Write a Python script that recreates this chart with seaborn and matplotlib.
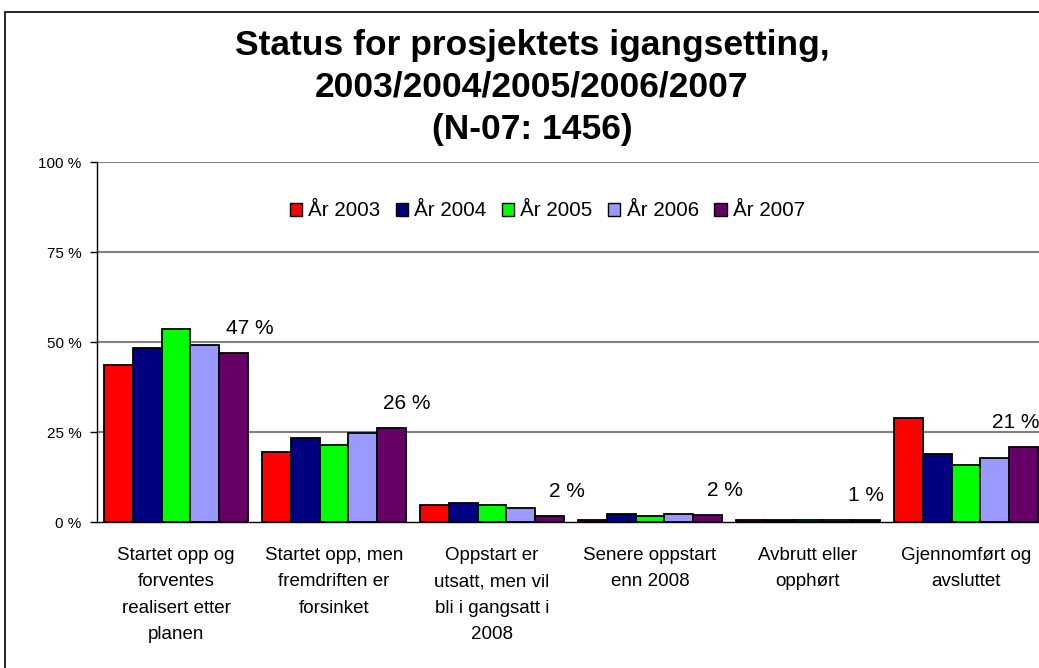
import pandas as pd
import seaborn as sns
import matplotlib.pyplot as plt
from matplotlib.patches import Rectangle, Patch

# data (percent)
categories = ["Startet opp og\nforventes\nrealisert etter\nplanen",
              "Startet opp, men\nfremdriften er\nforsinket",
              "Oppstart er\nutsatt, men vil\nbli i gangsatt i\n2008",
              "Senere oppstart\nenn 2008",
              "Avbrutt eller\nopphørt",
              "Gjennomført og\navsluttet"]
years = ["År 2003", "År 2004", "År 2005", "År 2006", "År 2007"]
v2003 = [43.6, 19.5, 4.8, 0.6, 0.6, 29.0]
v2004 = [48.2, 23.3, 5.4, 2.1, 0.6, 18.8]
v2005 = [53.5, 21.5, 4.8, 1.6, 0.6, 15.8]
v2006 = [49.2, 24.7, 3.9, 2.1, 0.6, 17.7]
v2007 = [47.0, 26.2, 1.7, 2.0, 0.6, 20.9]
colors = ["#FF0000", "#000080", "#00FF00", "#9999FF", "#660066"]
# labels shown for 2007 and their horizontal shift (pixels) as placed in the original
labels_2007 = ["47 %", "26 %", "2 %", "2 %", "1 %", "21 %"]
label_shift = [16, 15, 17, 17, 0, -8]

rows = []
for year, vals in zip(years, [v2003, v2004, v2005, v2006, v2007]):
    for cat, v in zip(categories, vals):
        rows.append({"kategori": cat, "år": year, "andel": v})
df = pd.DataFrame(rows)

sns.set_style("white")
plt.rcParams["font.family"] = ["Liberation Sans", "DejaVu Sans"]
plt.rcParams["text.color"] = "black"
plt.rcParams["xtick.color"] = "black"
plt.rcParams["ytick.color"] = "black"

fig = plt.figure(figsize=(10.39, 6.68), dpi=100)
ax = fig.add_axes([97/1039, 1-522/668, 948/1039, 360/668])

# gridlines
for g in [25, 50, 75, 100]:
    ax.axhline(g, color="#808080", lw=1.5, zorder=0)

sns.barplot(data=df, x="kategori", y="andel", hue="år", palette=colors,
            order=categories, hue_order=years, width=0.91,
            edgecolor="black", linewidth=1.3, saturation=1, ax=ax, legend=False)

ax.set_ylim(0, 100)
ax.set_xlim(-0.5, 5.5)
ax.set_yticks([0, 25, 50, 75, 100])
ax.set_yticklabels(["0 %", "25 %", "50 %", "75 %", "100 %"], fontsize=11)
ax.set_xticks(range(6))
ax.set_xticklabels(categories, fontsize=13.5, linespacing=1.72)
ax.tick_params(axis="x", length=0, pad=18)
ax.set_xticks([i + 0.5 for i in range(-1, 6)], minor=True)
ax.tick_params(axis="x", which="minor", length=6, width=1, color="black", direction="out")
ax.tick_params(axis="y", length=5, width=1, color="black", direction="out", left=True, pad=6)
ax.set_xlabel("")
ax.set_ylabel("")
for s in ["top", "right"]:
    ax.spines[s].set_visible(False)
for s in ["left", "bottom"]:
    ax.spines[s].set_color("black")
    ax.spines[s].set_linewidth(1)

# data labels for 2007
for bar, lab, dx in zip(ax.containers[4], labels_2007, label_shift):
    ax.annotate(lab, (bar.get_x() + bar.get_width()/2, bar.get_height()),
                xytext=(dx*0.72, 24*0.72), textcoords="offset points",
                ha="center", va="center", fontsize=15, annotation_clip=False)

handles = [Patch(facecolor=c, edgecolor="black", linewidth=1) for c in colors]
ax.legend(handles, years, loc="center", bbox_to_anchor=(0.475, 0.864), ncol=5,
          frameon=False, fontsize=14.8, handlelength=0.6, handleheight=0.6,
          handletextpad=0.3, columnspacing=0.75)

# title
for txt, y in zip(["Status for prosjektets igangsetting,", "2003/2004/2005/2006/2007", "(N-07: 1456)"],
                  [45, 87, 130]):
    fig.text(532/1039, 1 - y/668, txt, ha="center", va="center", fontsize=25.5, fontweight="bold")

# chart border
fig.add_artist(Rectangle((5/1039, -0.1), 1.1, 1.1 - 12/668, transform=fig.transFigure,
                         fill=False, edgecolor="black", lw=1.2))

fig.savefig("out.png", dpi=100)
